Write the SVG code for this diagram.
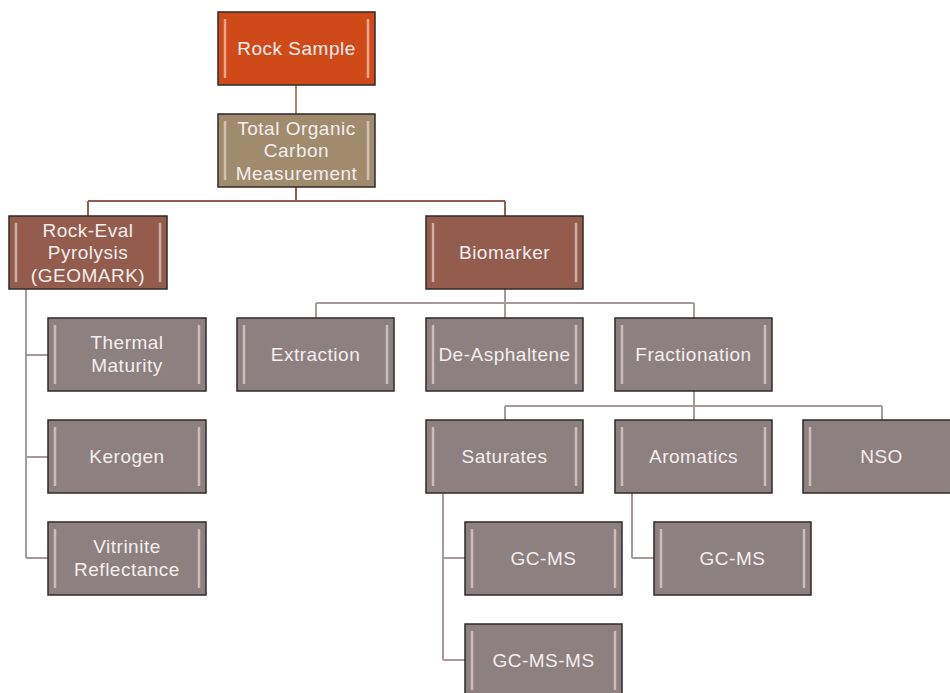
<svg xmlns="http://www.w3.org/2000/svg" width="950" height="693" viewBox="0 0 950 693">
<style>
.box{stroke:#2f2a2a;stroke-width:1.5}
.red{fill:#d04918}
.tan{fill:#a08b6c}
.brn{fill:#935c4d}
.gry{fill:#8c8080}
.bar{stroke:#f3e6e2;stroke-opacity:0.6;stroke-width:2.5}
.t{font-family:"Liberation Sans",Arial,sans-serif;font-size:19px;fill:#f4eeee;text-anchor:middle;letter-spacing:0.5px}
.c1{stroke:#a08b6c;stroke-width:2;fill:none}
.c2{stroke:#935c4d;stroke-width:2;fill:none}
.c3{stroke:#a89a9a;stroke-width:2;fill:none}
</style>
<rect width="950" height="693" fill="#ffffff"/>
<g id="connectors">
<path class="c1" d="M296,85V114"/>
<path class="c2" d="M296,187V201M88,201H505M88,201V216M505,201V216"/>
<path class="c3" d="M26,289V558M26,355H48M26,457H48M26,558H48"/>
<path class="c3" d="M505,289V303M316,303H694M316,303V318M505,303V318M694,303V318"/>
<path class="c3" d="M694,391V406M505,406H882M505,406V420M694,406V420M882,406V420"/>
<path class="c3" d="M443,493V660M443,558H465M443,660H465"/>
<path class="c3" d="M632,493V558M632,558H654"/>
</g>
<g id="rock-sample">
<rect class="box red" x="218" y="12" width="157" height="73"/>
<path class="bar" d="M225,19V78M368,19V78"/>
<text class="t" x="296.5" y="55">Rock Sample</text>
</g>
<g id="toc">
<rect class="box tan" x="218" y="114" width="157" height="73"/>
<path class="bar" d="M225,121V180M368,121V180"/>
<text class="t" x="296.5" y="134.5">Total Organic</text>
<text class="t" x="296.5" y="157">Carbon</text>
<text class="t" x="296.5" y="179.5">Measurement</text>
</g>
<g id="rock-eval">
<rect class="box brn" x="9" y="216" width="158" height="73"/>
<path class="bar" d="M16,223V282M160,223V282"/>
<text class="t" x="88" y="236.5">Rock-Eval</text>
<text class="t" x="88" y="259">Pyrolysis</text>
<text class="t" x="88" y="281.5">(GEOMARK)</text>
</g>
<g id="biomarker">
<rect class="box brn" x="426" y="216" width="157" height="73"/>
<path class="bar" d="M433,223V282M576,223V282"/>
<text class="t" x="504.5" y="259">Biomarker</text>
</g>
<g id="thermal-maturity">
<rect class="box gry" x="48" y="318" width="158" height="73"/>
<path class="bar" d="M55,325V384M199,325V384"/>
<text class="t" x="127" y="349">Thermal</text>
<text class="t" x="127" y="372">Maturity</text>
</g>
<g id="kerogen">
<rect class="box gry" x="48" y="420" width="158" height="73"/>
<path class="bar" d="M55,427V486M199,427V486"/>
<text class="t" x="127" y="463">Kerogen</text>
</g>
<g id="vitrinite">
<rect class="box gry" x="48" y="522" width="158" height="73"/>
<path class="bar" d="M55,529V588M199,529V588"/>
<text class="t" x="127" y="553">Vitrinite</text>
<text class="t" x="127" y="576">Reflectance</text>
</g>
<g id="extraction">
<rect class="box gry" x="237" y="318" width="157" height="73"/>
<path class="bar" d="M244,325V384M387,325V384"/>
<text class="t" x="315.5" y="361">Extraction</text>
</g>
<g id="de-asphaltene">
<rect class="box gry" x="426" y="318" width="157" height="73"/>
<path class="bar" d="M433,325V384M576,325V384"/>
<text class="t" x="504.5" y="361">De-Asphaltene</text>
</g>
<g id="fractionation">
<rect class="box gry" x="615" y="318" width="157" height="73"/>
<path class="bar" d="M622,325V384M765,325V384"/>
<text class="t" x="693.5" y="361">Fractionation</text>
</g>
<g id="saturates">
<rect class="box gry" x="426" y="420" width="157" height="73"/>
<path class="bar" d="M433,427V486M576,427V486"/>
<text class="t" x="504.5" y="463">Saturates</text>
</g>
<g id="aromatics">
<rect class="box gry" x="615" y="420" width="157" height="73"/>
<path class="bar" d="M622,427V486M765,427V486"/>
<text class="t" x="693.5" y="463">Aromatics</text>
</g>
<g id="nso">
<rect class="box gry" x="803" y="420" width="157" height="73"/>
<path class="bar" d="M810,427V486M953,427V486"/>
<text class="t" x="881.5" y="463">NSO</text>
</g>
<g id="gc-ms-sat">
<rect class="box gry" x="465" y="522" width="157" height="73"/>
<path class="bar" d="M472,529V588M615,529V588"/>
<text class="t" x="543.5" y="565">GC-MS</text>
</g>
<g id="gc-ms-ms">
<rect class="box gry" x="465" y="624" width="157" height="73"/>
<path class="bar" d="M472,631V690M615,631V690"/>
<text class="t" x="543.5" y="667">GC-MS-MS</text>
</g>
<g id="gc-ms-aro">
<rect class="box gry" x="654" y="522" width="157" height="73"/>
<path class="bar" d="M661,529V588M804,529V588"/>
<text class="t" x="732.5" y="565">GC-MS</text>
</g>
</svg>
